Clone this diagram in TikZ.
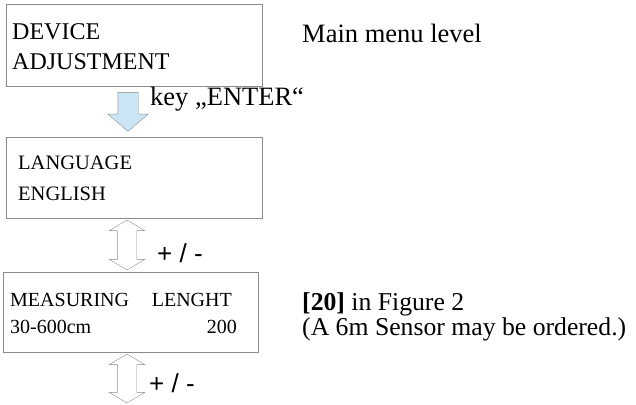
\documentclass[tikz,border=0pt]{standalone}
\usepackage{fontspec}
\setmainfont{Liberation Serif}
\setsansfont{Liberation Sans}
\usetikzlibrary{positioning}
\usetikzlibrary{shapes.arrows}
\tikzset{menubox/.style = {draw = boxgray, line width = 1pt, inner sep = 0pt},
  txt/.style = {inner sep = 0pt, anchor = base west},
  keyarrow/.style = {single arrow, draw = boxgray, fill = keyblue, shape border rotate = 270,
    inner xsep = 10pt, inner ysep = 0pt, single arrow head extend = 10pt,
    single arrow tip angle = 99, minimum height = 39pt},
  pmarrow/.style = {double arrow, draw = boxgray, fill = white, shape border rotate = 90,
    inner xsep = 9.5pt, inner ysep = 0pt, double arrow head extend = 8pt,
    double arrow tip angle = 118, minimum height = 50pt},
  pmtext/.style = {txt, font = \sffamily\fontsize{26}{30}\selectfont}}
\definecolor{boxgray}{rgb}{0.55, 0.55, 0.55}
\definecolor{keyblue}{rgb}{0.8, 0.9, 0.96}

\begin{document}
\begin{tikzpicture}[x = 1pt, y = -1pt]
    \useasboundingbox (0, 0) rectangle (636, 404);

    \node [menubox, minimum width = 256, minimum height = 81] (dev) at (134, 45.5) {};
    \node [txt, font = \fontsize{24}{28}\selectfont] (dev1) at (12, 40) {DEVICE};
    \node [txt, font = \fontsize{24}{28}\selectfont] (dev2) at (12, 70) {ADJUSTMENT};
    \node [txt, font = \fontsize{26.5}{30}\selectfont] (main) at (302, 42) {Main menu level};

    \node [keyarrow] (enter) at (128, 107.5) {};
    \node [txt, font = \fontsize{26.5}{30}\selectfont] (entert) at (150, 105) {key „ENTER“};

    \node [menubox, minimum width = 256, minimum height = 81] (lang) at (134, 177.5) {};
    \node [txt, font = \fontsize{20.5}{24}\selectfont] (lang1) at (18, 169) {LANGUAGE};
    \node [txt, font = \fontsize{20.5}{24}\selectfont] (lang2) at (18, 200) {ENGLISH};

    \node [pmarrow] (pm1) at (127, 245) {};
    \node [pmtext] (pm1t) at (157, 262) {+ / -};

    \node [menubox, minimum width = 255, minimum height = 80] (meas) at (130.5, 312) {};
    \node [txt, font = \fontsize{20}{24}\selectfont] (meas1) at (10, 306) {MEASURING};
    \node [txt, font = \fontsize{20}{24}\selectfont, anchor = base east] (meas2) at (232, 306) {LENGHT};
    \node [txt, font = \fontsize{20}{24}\selectfont] (meas3) at (10, 333) {30-600cm};
    \node [txt, font = \fontsize{20}{24}\selectfont, anchor = base east] (meas4) at (237, 333) {200};
    \node [txt, font = \fontsize{25.7}{30}\selectfont] (ref1) at (302, 310) {\textbf{[20]} in Figure 2};
    \node [txt, font = \fontsize{25.7}{30}\selectfont] (ref2) at (302, 335) {(A 6m Sensor may be ordered.)};

    \node [pmarrow, minimum height = 49pt] (pm2) at (127, 378.5) {};
    \node [pmtext] (pm2t) at (149, 392) {+ / -};
  \end{tikzpicture}
\end{document}
